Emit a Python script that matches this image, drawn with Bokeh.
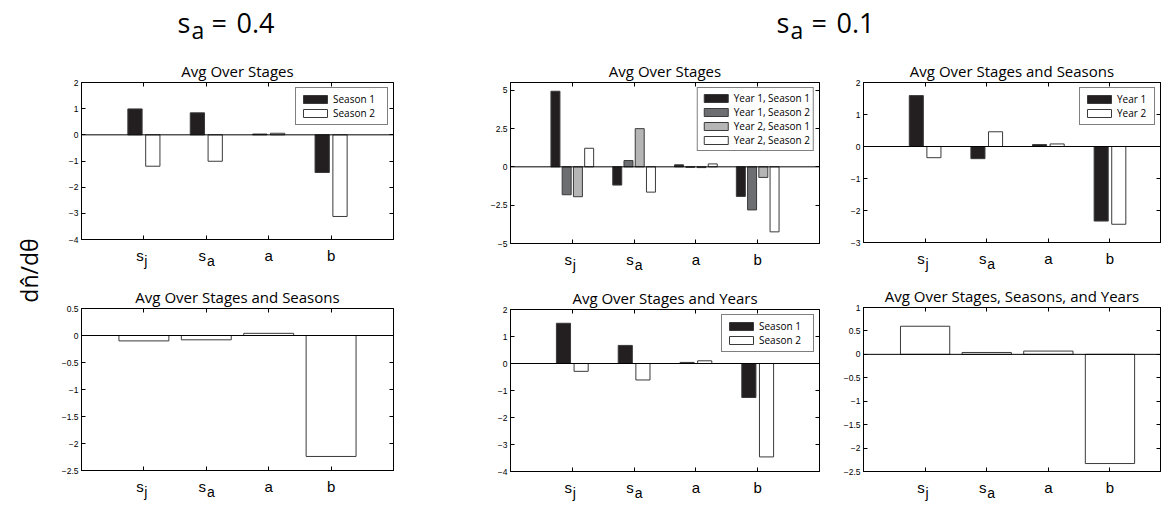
from bokeh.plotting import figure
from bokeh.layouts import row, column
from bokeh.models import ColumnDataSource, FixedTicker, LinearAxis, Span, Legend, LegendItem, Range1d
from bokeh.core.properties import value
from bokeh.embed import file_html
from bokeh.resources import INLINE

# ---------------- data ----------------
param_pos = [1, 2, 3, 4]
param_base = ["s", "s", "a", "b"]
param_sub = ["j", "a", "", ""]

# s_a = 0.4
tl_season1 = [0.99, 0.84, 0.03, -1.44]
tl_season2 = [-1.20, -1.01, 0.06, -3.12]
bl_avg = [-0.10, -0.08, 0.04, -2.24]

# s_a = 0.1
tm_y1s1 = [4.93, -1.19, 0.13, -1.93]
tm_y1s2 = [-1.82, 0.41, -0.03, -2.81]
tm_y2s1 = [-1.95, 2.49, -0.05, -0.69]
tm_y2s2 = [1.21, -1.65, 0.19, -4.24]
tr_year1 = [1.59, -0.38, 0.06, -2.33]
tr_year2 = [-0.35, 0.46, 0.08, -2.43]
bm_season1 = [1.49, 0.67, 0.04, -1.26]
bm_season2 = [-0.29, -0.61, 0.10, -3.46]
br_avg = [0.60, 0.04, 0.07, -2.33]

yticks_tl = [-4, -3, -2, -1, 0, 1, 2]
yticks_bl = [-2.5, -2, -1.5, -1, -0.5, 0, 0.5]
yticks_tm = [-5, -2.5, 0, 2.5, 5]
yticks_tr = [-3, -2, -1, 0, 1, 2]
yticks_bm = [-4, -3, -2, -1, 0, 1, 2]
yticks_br = [-2.5, -2, -1.5, -1, -0.5, 0, 0.5, 1]

header_left = ["s", "a", "=", "0.4"]
header_right = ["s", "a", "=", "0.1"]
ylabel_text = "dn\u0302/d\u03b8"

BLACK = "#231f20"
DGRAY = "#6d6e71"
LGRAY = "#b5b5b5"
WHITE = "#ffffff"
EDGE = "#3a3a3a"
FONT = "Open Sans"
TFONT = "Liberation Sans"
DESC_OS = 0.29    # descent of Open Sans (text anchors sit one descent low)
DESC_LS = 0.212   # descent of Liberation Sans


def fmt(v):
    return ("%g" % v).replace("-", "\u2212")


def quiet_axis(ticks):
    return LinearAxis(ticker=FixedTicker(ticks=ticks), major_label_text_color=None,
                      major_label_text_font_size="1px", major_label_standoff=0,
                      major_tick_in=4, major_tick_out=0, major_tick_line_color="black",
                      minor_tick_line_color=None, axis_line_color="black")


def bare(fig):
    fig.axis.visible = False
    fig.grid.visible = False
    fig.outline_line_color = None
    return fig


def panel(title, series, yticks, yr, xend, fw, fh, bl, br, bt, strip_h, legend_lw=None, legend_pad=4):
    p = figure(title=title, x_range=Range1d(0, xend), y_range=Range1d(*yr),
               frame_width=fw, frame_height=fh,
               min_border_left=bl, min_border_right=br, min_border_top=bt, min_border_bottom=5,
               toolbar_location=None, output_backend="svg")
    p.grid.visible = False
    p.outline_line_color = "black"
    p.outline_line_width = 1
    p.background_fill_color = "white"
    p.title.text_font = FONT
    p.title.text_font_size = "15px"
    p.title.text_font_style = "normal"
    p.title.text_color = "black"
    p.title.align = "center"
    p.title.standoff = 4

    n = len(series)
    if n == 1:
        step, width = 0.0, 0.8
    else:
        gw = min(0.8, n / (n + 1.5))
        step = gw / n
        width = step * 0.8
    items = []
    for i, (vals, color, label) in enumerate(series):
        off = (i - (n - 1) / 2.0) * step
        src = ColumnDataSource(dict(x=[c + off for c in param_pos], top=vals, bottom=[0] * len(vals)))
        r = p.vbar(x="x", top="top", bottom="bottom", width=width, source=src,
                   fill_color=color, line_color=EDGE, line_width=1)
        items.append(LegendItem(label=label, renderers=[r]))

    p.add_layout(Span(location=0, dimension="width", line_color="black", line_width=1))

    # bottom axis: tick marks only (labels drawn in the strip below, sharing the x scale)
    xa = p.xaxis[0]
    xa.ticker = FixedTicker(ticks=param_pos)
    xa.major_label_text_color = None
    xa.major_label_text_font_size = "1px"
    xa.major_label_standoff = 0

    ya = p.yaxis[0]
    ya.ticker = FixedTicker(ticks=yticks)
    ya.major_label_overrides = {float(t): fmt(t) for t in yticks}
    ya.major_label_text_font = TFONT
    ya.major_label_text_font_size = "8.5px"
    ya.major_label_text_color = "black"
    ya.major_label_standoff = 3
    for ax in (xa, ya):
        ax.major_tick_in = 4
        ax.major_tick_out = 0
        ax.minor_tick_line_color = None
        ax.axis_line_color = "black"
        ax.major_tick_line_color = "black"

    p.add_layout(quiet_axis(param_pos), "above")
    p.add_layout(quiet_axis(yticks), "right")

    if legend_lw is not None:
        lg = Legend(items=items, location="top_right", border_line_color="black",
                    border_line_width=1.5, background_fill_color="white", background_fill_alpha=1,
                    label_text_font=FONT, label_text_font_size="10px", label_text_color="black",
                    glyph_width=30, glyph_height=10, label_height=10, label_width=legend_lw,
                    spacing=0, padding=legend_pad, margin=5, label_standoff=3)
        p.add_layout(lg)

    # tick-label strip: same x scale, letters with lowered subscripts
    base_line = 14
    s = bare(figure(x_range=p.x_range, y_range=Range1d(strip_h, 0), frame_width=fw, frame_height=strip_h,
                    min_border_left=bl, min_border_right=br, min_border_top=0, min_border_bottom=0,
                    toolbar_location=None, output_backend="svg"))
    base_src = ColumnDataSource(dict(x=param_pos, text=param_base,
                                     y=[base_line - DESC_LS * 15] * len(param_pos),
                                     dx=[-4 if sb else 0 for sb in param_sub]))
    s.text(x="x", y="y", text="text", x_offset="dx", source=base_src, text_align="center",
           text_baseline="alphabetic", text_font=value(TFONT), text_font_size="15px", text_color="black")
    sub_x = [c for c, sb in zip(param_pos, param_sub) if sb]
    sub_t = [sb for sb in param_sub if sb]
    sub_src = ColumnDataSource(dict(x=sub_x, text=sub_t, y=[base_line + 5 - DESC_LS * 14] * len(sub_x),
                                    dx=[2 if t == "j" else 4.5 for t in sub_t]))
    s.text(x="x", y="y", text="text", x_offset="dx", source=sub_src, text_align="center",
           text_baseline="alphabetic", text_font=value(TFONT), text_font_size="14px", text_color="black")
    return column(p, s)


# header (figure coordinates equal page pixels)
hdr = bare(figure(width=1164, height=56, x_range=Range1d(0, 1164), y_range=Range1d(56, 0),
                  toolbar_location=None, output_backend="svg", min_border=0))
for parts, xs in ((header_left, [177, 191, 211, 236]), (header_right, [776, 790, 811, 836])):
    hdr.text(x=[xs[0], xs[2], xs[3]], y=[30 - DESC_OS * 27] * 3, text=[parts[0], parts[2], parts[3]],
             text_align="left", text_baseline="alphabetic", text_font=value(FONT),
             text_font_size="27px", text_color="black")
    hdr.text(x=[xs[1]], y=[36 - DESC_OS * 23], text=[parts[1]], text_align="left", text_baseline="alphabetic",
             text_font=value(FONT), text_font_size="23px", text_color="black")

# y label (rotated; its baseline runs down the page at x = 35)
ylab = bare(figure(width=48, height=444, x_range=Range1d(0, 48), y_range=Range1d(444, 0),
                   toolbar_location=None, output_backend="svg", min_border=0))
ylab.text(x=[35 - DESC_OS * 23], y=[214], text=[ylabel_text], angle=1.5708, text_align="center",
          text_baseline="alphabetic", text_font=value(FONT), text_font_size="23px", text_color="black")

tl = panel("Avg Over Stages", [(tl_season1, BLACK, "Season 1"), (tl_season2, WHITE, "Season 2")],
           yticks_tl, (-4, 2), 5, 312, 157, 33, 77, 26, 36, legend_lw=50)
bl = panel("Avg Over Stages and Seasons", [(bl_avg, WHITE, "")], yticks_bl, (-2.5, 0.5), 5,
           312, 162, 33, 77, 28, 25)
tm = panel("Avg Over Stages", [(tm_y1s1, BLACK, "Year 1, Season 1"), (tm_y1s2, DGRAY, "Year 1, Season 2"),
                               (tm_y2s1, LGRAY, "Year 2, Season 1"), (tm_y2s2, WHITE, "Year 2, Season 2")],
           yticks_tm, (-5, 5.5), 5, 309, 161, 40, 11, 25, 33, legend_lw=0, legend_pad=3)
bm = panel("Avg Over Stages and Years", [(bm_season1, BLACK, "Season 1"), (bm_season2, WHITE, "Season 2")],
           yticks_bm, (-4, 2), 5, 309, 162, 40, 11, 28, 25, legend_lw=50)
tr = panel("Avg Over Stages and Seasons", [(tr_year1, BLACK, "Year 1"), (tr_year2, WHITE, "Year 2")],
           yticks_tr, (-3, 2), 4.82, 297, 160, 33, 4, 25, 34, legend_lw=33)
br = panel("Avg Over Stages, Seasons, and Years", [(br_avg, WHITE, "")], yticks_br, (-2.5, 1), 4.82,
           297, 164, 33, 4, 26, 25)

layout = column(hdr, row(ylab, column(tl, bl), column(tm, bm), column(tr, br)))

open("out.html", "w").write(file_html(layout, INLINE))
